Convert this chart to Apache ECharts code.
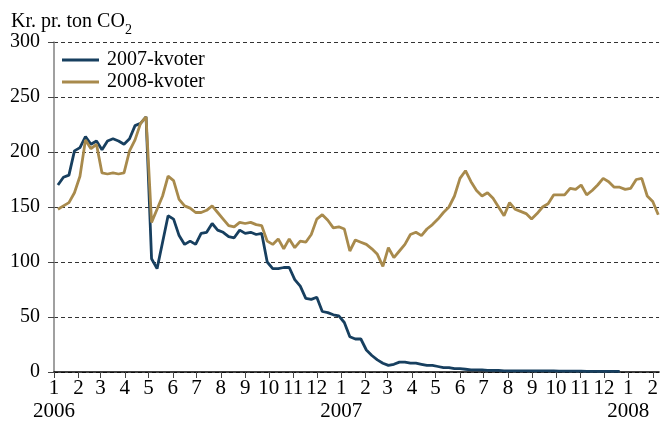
<!DOCTYPE html>
<html>
<head>
<meta charset="utf-8">
<script src="https://cdn.jsdelivr.net/npm/echarts@6/dist/echarts.min.js"></script>
<style>
  html, body { margin: 0; padding: 0; background: #fff; overflow: hidden; }
  #chart { width: 661px; height: 423px; }
</style>
</head>
<body>
<div id="chart"></div>
<script>
// weekly quotes (Fridays) from 6 Jan 2006
const firstWeek = '2006-01-06';
const seriesNames = ['2007-kvoter', '2008-kvoter'];

const kvoter2007 = [
  170, 177, 179, 201, 204, 214, 207, 210, 202, 210, 212, 210, 207, 212, 224, 226, 232,
  103, 94, 118, 142, 139, 124, 116, 119, 116, 126, 127, 135, 129, 127, 123, 122, 129, 126, 127, 125,
  126, 100, 94, 94, 95, 95, 84, 78, 67, 66,
  68, 55, 54, 52, 51, 45, 32, 30, 30, 20,
  15, 11, 8, 6, 7, 9, 9, 8, 8, 7,
  6, 6, 5, 4, 4, 3, 3, 2.5, 2,
  2, 2, 1.5, 1.5, 1.5, 1, 1, 1, 1, 1, 1, 1, 1, 1, 1,
  0.8, 0.8, 0.8, 0.8, 0.8, 0.6, 0.6, 0.6, 0.5, 0.5, 0.5, 0.5
];

const kvoter2008 = [
  148, 151, 154, 163, 178, 211, 203, 207, 181, 180, 181, 180, 181, 201, 211, 226, 232,
  136, 148, 160, 178, 174, 157, 151, 149, 145, 145, 147, 151, 145, 139, 133, 132, 136, 135, 136, 134,
  133, 119, 116, 121, 112, 121, 113, 119, 118, 125,
  139, 143, 138, 131, 132, 130, 110, 120, 118, 116,
  112, 107, 96, 113, 104, 110, 116, 125, 127, 124,
  130, 134, 139, 145, 150, 160, 176, 183, 173, 165,
  160, 163, 158, 150, 142, 154, 148, 146, 144, 139,
  144, 150, 153, 161, 161, 161, 167, 166, 170,
  161, 165, 170, 176, 173, 168, 168, 166, 167, 175, 176, 160, 155, 143
];

const yTicks = [0, 50, 100, 150, 200, 250, 300];

const DAY = 86400000;
const start = new Date(firstWeek + 'T00:00:00').getTime();
function toPairs(values) {
  return values.map((v, i) => [start + i * 7 * DAY, v]);
}

const font = '"Liberation Serif", "DejaVu Serif", serif';
const colors = ['#173f5f', '#a88a4c'];

const chart = echarts.init(document.getElementById('chart'));

const option = {
  animation: false,
  backgroundColor: '#fff',
  textStyle: { fontFamily: font, color: '#000' },
  title: {
    text: '{a|Kr. pr. ton CO}{s|2}',
    left: 11,
    top: 7,
    padding: 0,
    textStyle: {
      fontWeight: 'normal',
      rich: {
        a: { fontFamily: font, fontSize: 20, fontWeight: 'normal', lineHeight: 30, verticalAlign: 'middle', color: '#000' },
        s: { fontFamily: font, fontSize: 14, fontWeight: 'normal', lineHeight: 30, verticalAlign: 'bottom', color: '#000' }
      }
    }
  },
  legend: {
    data: seriesNames,
    orient: 'vertical',
    left: 62,
    top: 50,
    padding: 0,
    itemGap: 2,
    itemWidth: 37,
    itemHeight: 3,
    icon: 'rect',
    textStyle: { fontFamily: font, fontSize: 20, color: '#000', padding: [0, 0, 0, 3] }
  },
  grid: { left: 54, right: 0, top: 42, bottom: 49 },
  xAxis: {
    type: 'time',
    min: '2006-01-01',
    max: '2008-02-09',
    splitNumber: 26,
    minInterval: 28 * DAY,
    maxInterval: 31 * DAY,
    axisLine: { lineStyle: { color: '#000', width: 1.5 } },
    axisTick: { show: true, length: 6, lineStyle: { color: '#444' } },
    splitLine: { show: false },
    axisLabel: {
      fontFamily: font,
      fontSize: 21,
      color: '#000',
      margin: 5,
      lineHeight: 23,
      hideOverlap: false,
      formatter: function (val) {
        const d = new Date(val);
        const m = d.getMonth() + 1;
        return m === 1 ? m + '\n' + d.getFullYear() : String(m);
      }
    }
  },
  yAxis: {
    type: 'value',
    min: yTicks[0],
    max: yTicks[yTicks.length - 1],
    interval: 50,
    axisLine: { show: true, lineStyle: { color: '#808080', width: 1.5 } },
    axisTick: { show: true, length: 6, lineStyle: { color: '#444' } },
    axisLabel: { fontFamily: font, fontSize: 20, color: '#000', margin: 14 },
    splitLine: { lineStyle: { color: '#333', type: [4, 3], width: 1 } }
  },
  series: [
    {
      name: seriesNames[0],
      type: 'line',
      data: toPairs(kvoter2007),
      symbol: 'none',
      color: colors[0],
      lineStyle: { width: 2.8, color: colors[0] },
      z: 3
    },
    {
      name: seriesNames[1],
      type: 'line',
      data: toPairs(kvoter2008),
      symbol: 'none',
      color: colors[1],
      lineStyle: { width: 2.8, color: colors[1] },
      z: 4
    }
  ]
};

chart.setOption(option);
</script>
</body>
</html>
